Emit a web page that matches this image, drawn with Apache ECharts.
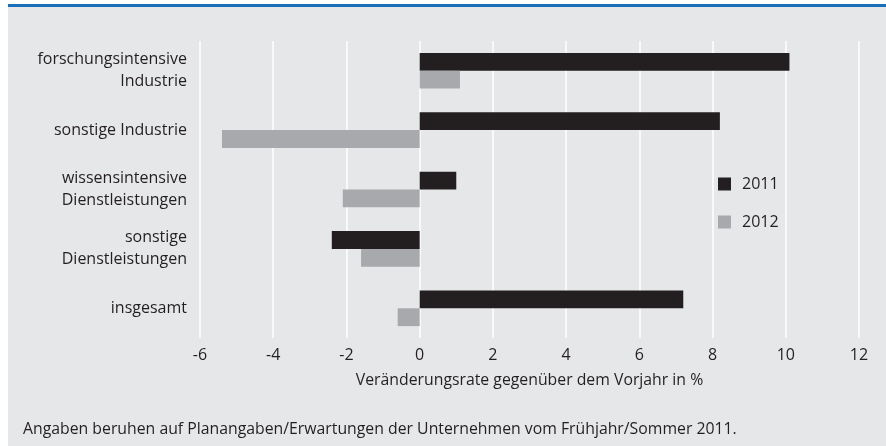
<!DOCTYPE html>
<html>
<head>
<meta charset="utf-8">
<script src="https://cdn.jsdelivr.net/npm/echarts@6/dist/echarts.min.js"></script>
<style>
  html, body { margin: 0; padding: 0; background: #ffffff; }
  #chart { width: 886px; height: 446px; }
</style>
</head>
<body>
<div id="chart"></div>
<script>
  // Daten
  var categories = [
    'forschungsintensive\nIndustrie',
    'sonstige Industrie',
    'wissensintensive\nDienstleistungen',
    'sonstige\nDienstleistungen',
    'insgesamt'
  ];
  var seriesNames = ['2011', '2012'];
  var values2011 = [10.1, 8.2, 1.0, -2.4, 7.2];
  var values2012 = [1.1, -5.4, -2.1, -1.6, -0.6];
  var xTicks = { min: -6, max: 12, step: 2 };
  var axisTitle = 'Veränderungsrate gegenüber dem Vorjahr in %';
  var footnote = 'Angaben beruhen auf Planangaben/Erwartungen der Unternehmen vom Frühjahr/Sommer 2011.';

  var textColor = '#231f20';
  var font = '"Open Sans", sans-serif';

  var myChart = echarts.init(document.getElementById('chart'));
  var option = {
    animation: false,
    backgroundColor: '#ffffff',
    textStyle: { fontFamily: font, color: textColor },
    graphic: [
      { type: 'rect', z: -10, shape: { x: 8, y: 7, width: 878, height: 439 }, style: { fill: '#e6e7e9' } },
      { type: 'rect', z: -10, shape: { x: 8, y: 4, width: 878, height: 3 }, style: { fill: '#1b6fba' } },
      {
        type: 'text', left: 23, top: 421,
        style: { text: footnote, fill: textColor, font: '15.8px ' + font }
      }
    ],
    legend: {
      orient: 'vertical',
      left: 718,
      top: 176,
      itemWidth: 13,
      itemHeight: 13,
      itemGap: 22,
      padding: 0,
      icon: 'rect',
      data: seriesNames,
      textStyle: { fontSize: 16, color: textColor, padding: [0, 0, 0, 6] }
    },
    grid: { left: 200, right: 27, top: 41, bottom: 108 },
    xAxis: {
      type: 'value',
      min: xTicks.min,
      max: xTicks.max,
      interval: xTicks.step,
      axisLine: { show: false },
      axisTick: { show: false },
      splitLine: { show: true, lineStyle: { color: '#ffffff', width: 1.5 } },
      axisLabel: { fontSize: 16, color: textColor, margin: 9 },
      name: axisTitle,
      nameLocation: 'middle',
      nameGap: 34,
      nameTextStyle: { fontSize: 15.8, color: textColor }
    },
    yAxis: {
      type: 'category',
      inverse: true,
      data: categories,
      axisLine: { show: false },
      axisTick: { show: false },
      splitLine: { show: false },
      axisLabel: { fontSize: 16, lineHeight: 22, color: textColor, margin: 13, align: 'right' }
    },
    series: [
      {
        name: seriesNames[0], type: 'bar', data: values2011,
        barGap: '0%', barCategoryGap: '40%',
        itemStyle: { color: '#231f20' }
      },
      {
        name: seriesNames[1], type: 'bar', data: values2012,
        barGap: '0%', barCategoryGap: '40%',
        itemStyle: { color: '#a7a9ac' }
      }
    ]
  };
  myChart.setOption(option);
</script>
</body>
</html>
